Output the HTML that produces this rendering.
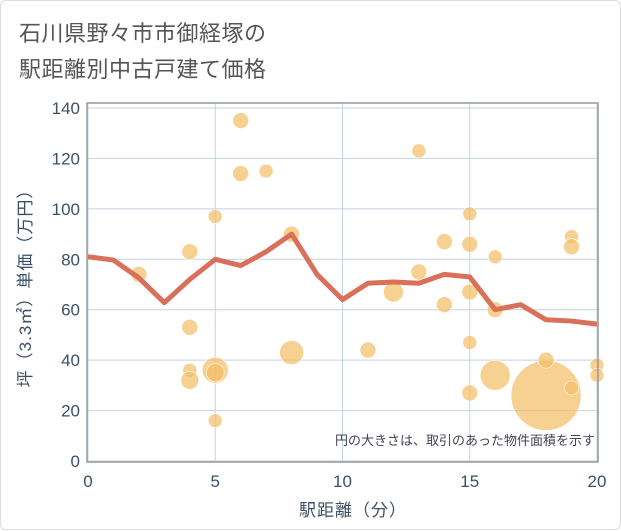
<!DOCTYPE html>
<html><head><meta charset="utf-8"><style>
body{margin:0;background:#fff;}
#wrap{position:relative;width:621px;height:530px;background:#fff;border:1px solid #ddd;border-radius:6px;box-sizing:border-box;font-family:"Liberation Sans","Noto Sans CJK JP",sans-serif;}
</style></head><body>
<div id="wrap">
<svg id="chart" width="621" height="530" style="position:absolute;left:0;top:0">
<text x="18" y="40" font-size="22" fill="#555" letter-spacing="0.5" font-family="Liberation Sans,Noto Sans CJK JP,sans-serif">石川県野々市市御経塚の</text>
<text x="18" y="76" font-size="22" fill="#555" letter-spacing="0.5" font-family="Liberation Sans,Noto Sans CJK JP,sans-serif">駅距離別中古戸建て価格</text>
<g id="grid"></g><g id="bubbles"></g><g id="line"></g><g id="axes"></g>
</svg>
</div>
<script>
const xTicks=[0,5,10,15,20];
const yTicks=[0,20,40,60,80,100,120,140];
const bubbleX=[2,4,4,4,4,5,5,5,5,6,6,7,8,8,11,12,13,13,14,14,15,15,15,15,15,16,16,16,18,18,19,19,19,20,20];
const bubbleY=[74,83,53,36,32,97,36,35,16,135,114,115,90,43,44,67,123,75,87,62,98,86,67,47,27,81,60,34,26,40,89,85,29,38,34];
const bubbleR=[8,8,8,7,9,7,13,9,7,8,8,7,8,12,8,10,7,8,8,8,7,8,8,7,8,7,8,15,35,8,7,8,7,7,7];
const lineX=[0,1,2,3,4,5,6,7,8,9,10,11,12,13,14,15,16,17,18,19,20];
const lineY=[81,79.7,72.6,62.8,72,80,77.5,83,90,74,64,70.5,71,70.5,74,73,60,62,56,55.5,54.3];
const L=87,R=596,T=107,B=460;
const sx=v=>L+(v-0)/(20-0)*(R-L);
const sy=v=>B-(v-0)/(140-0)*(B-T);
const NS="http://www.w3.org/2000/svg";
function mk(tag,attrs,parent){const e=document.createElementNS(NS,tag);for(const k in attrs)e.setAttribute(k,attrs[k]);parent.appendChild(e);return e;}
const grid=document.getElementById('grid'),bub=document.getElementById('bubbles'),ln=document.getElementById('line'),ax=document.getElementById('axes');
const frame=mk('rect',{x:86,y:102,width:511,height:359,fill:'none',stroke:'#999','stroke-width':1.5},ax);


yTicks.forEach(v=>{
 const g=mk('line',{x1:86,x2:597,y1:sy(v),y2:sy(v),stroke:'#c3d3e3','stroke-width':1},grid);
 
 
 const t=mk('text',{x:79,y:sy(v)+6,'text-anchor':'end','font-size':17,fill:'#3b5066'},ax);
 t.textContent=v;
 
 
});
xTicks.forEach(v=>{
 const g=mk('line',{x1:sx(v),x2:sx(v),y1:102,y2:461,stroke:'#c3d3e3','stroke-width':1},grid);
 
 
 const t=mk('text',{x:sx(v),y:486,'text-anchor':'middle','font-size':17,fill:'#3b5066'},ax);
 t.textContent=v;
 
 
});
bubbleX.forEach((x,i)=>{
 const c=mk('circle',{cx:sx(x),cy:sy(bubbleY[i]),r:bubbleR[i],fill:'rgba(243,189,100,0.7)',stroke:'#fff','stroke-width':0.6},bub);
 
 
});
const pts=lineX.map((x,i)=>sx(x)+','+sy(lineY[i])).join(' ');
const pl=mk('polyline',{points:pts,fill:'none',stroke:'#d9705a','stroke-width':5,'stroke-linejoin':'round'},ln);


const note=mk('text',{x:594,y:444,'text-anchor':'end','font-size':13,fill:'#445'},ax);
note.textContent='円の大きさは、取引のあった物件面積を示す';


const xt=mk('text',{x:352,y:515,'text-anchor':'middle','font-size':17,fill:'#3b5066','letter-spacing':1},ax);
xt.textContent='駅距離（分）';


const yt=mk('text',{x:0,y:0,'text-anchor':'middle','font-size':17,fill:'#3b5066','letter-spacing':1,transform:'translate(30,283) rotate(-90)'},ax);
yt.textContent='坪（3.3㎡）単価（万円）';


</script>
</body></html>
